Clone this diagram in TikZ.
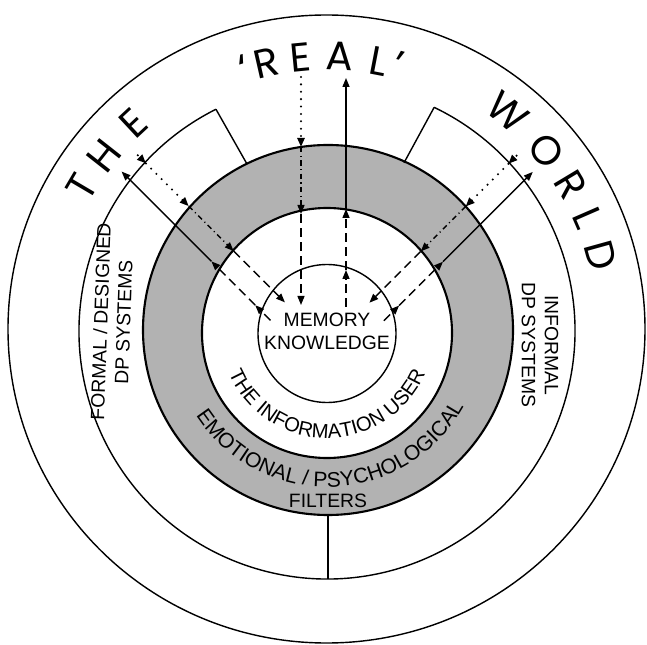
\documentclass[tikz,border=0pt]{standalone}
\usepackage{fontspec}
\setsansfont{Liberation Sans}
\newfontfamily\worldfont{Poppins}
\usetikzlibrary{arrows.meta,calc,decorations.text}

\begin{document}
\begin{tikzpicture}[
    % Style definitions
    bandline/.style={draw=black, line width=0.8pt},
    filterline/.style={draw=black, line width=1.2pt},
    flow/.style={line width=0.8pt},
    inflow/.style={flow, line width=1.3pt, line cap=round, dash pattern=on 0pt off 4.2pt},
    mixflow/.style={flow, dash pattern=on 3pt off 2pt on 0.6pt off 2pt},
    dashflow/.style={flow, dash pattern=on 5pt off 3pt},
    arrowend/.style={-{Triangle[length=1.8mm,width=1.4mm]}},
    caption/.style={font=\sffamily\fontsize{11}{13}\selectfont, align=center, inner sep=0pt},
    bigletter/.style={font=\worldfont\fontsize{23}{23}\selectfont, anchor=base, inner sep=0pt}
]
\useasboundingbox (-6.54,-6.26) rectangle (6.40,6.62);

% Filter ring
\fill[black!30, even odd rule] (0.02,0.02) circle (3.70) (0,-0.04) circle (2.5);

% Circles
\draw[bandline] (-0.01,0.04) ellipse (6.37 and 6.28);
\coordinate (formalcorner) at (116.6:4.96);
\coordinate (informalcorner) at (64.4:4.96);
\coordinate (formalfoot) at (115.6:3.70);
\coordinate (informalfoot) at (65.4:3.70);
\coordinate (bottomfoot) at (0.02,-3.68);
\coordinate (bottomend) at (0.02,-4.96);
\draw[bandline] (formalcorner) arc (116.6:424.4:4.96);
\draw[bandline] (formalcorner) -- (formalfoot);
\draw[bandline] (informalcorner) -- (informalfoot);
\draw[bandline] (bottomfoot) -- (bottomend);
\draw[filterline] (0.02,0.02) circle (3.70);
\draw[filterline] (0,-0.04) circle (2.5);
\draw[bandline] (0,-0.05) circle (1.38);

% THE 'REAL' WORLD
\foreach \ch/\ang/\rad/\nm in {T/149.5/5.40/the1, H/141.8/5.40/the2, E/133/5.40/the3,
    {‘}/107.5/5.22/real0, R/102.8/5.22/real1, E/95.5/5.22/real2, A/87.3/5.22/real3, L/79.1/5.22/real4, {’}/74.9/5.22/real5,
    W/50.5/5.40/world1, O/39.5/5.40/world2, R/31/5.40/world3, L/23.5/5.40/world4, D/15.5/5.40/world5}
  \node[bigletter, rotate=\ang-90] (\nm) at (\ang:\rad) {\ch};

% Labels
\node[caption] (memtext) at (0,0) {MEMORY\\KNOWLEDGE};
\node[caption, rotate=88] (formaltext) at (-4.30,0.18) {FORMAL / DESIGNED\\DP SYSTEMS};
\node[caption, rotate=-90] (informaltext) at (4.26,-0.28) {INFORMAL\\DP SYSTEMS};
\node[caption] (filterstext) at (0.02,-3.40) {FILTERS};
\path[decorate, decoration={text along path, text align=center,
    text={|\sffamily\fontsize{11.5}{13}\selectfont|THE INFORMATION USER}}]
    (190:2.14) arc (190:350:2.14);
\path[decorate, decoration={text along path, text align=center,
    text={|\sffamily\fontsize{12}{14}\selectfont|EMOTIONAL / PSYCHOLOGICAL}}]
    (182:3.12) arc (182:362:3.12);

% Incoming lines (world -> user)
\coordinate (intop0) at (-0.52,5.08);
\coordinate (intop1) at (-0.52,3.68);
\coordinate (intop2) at (-0.52,2.34);
\coordinate (intop3) at (-0.52,0.52);
\draw[inflow, arrowend] (intop0) -- (intop1);
\draw[mixflow, arrowend] (intop1) -- (intop2);
\draw[dashflow, arrowend] (intop2) -- (intop3);
\foreach \n/\a/\na/\d in {inl/135/225/0.19, inr/45/315/0.2}{
  \coordinate (\n0) at ($(\a:5.16)+(\na:\d)$);
  \coordinate (\n1) at ($(\a:4.93)+(\na:\d)$);
  \coordinate (\n2) at ($(\a:3.72)+(\na:\d)$);
  \coordinate (\n3) at ($(\a:2.45)+(\na:\d)$);
  \coordinate (\n4) at ($(\a:1.0)+(\na:\d)$);
  \draw[inflow, arrowend] (\n0) -- (\n1);
  \draw[inflow, arrowend] (\n1) -- (\n2);
  \draw[mixflow, arrowend] (\n2) -- (\n3);
  \draw[dashflow, arrowend] (\n3) -- (\n4);
}

% Outgoing lines (user -> world)
\coordinate (outtop0) at (0.38,0.48);
\coordinate (outtop1) at (0.38,1.22);
\coordinate (outtop2) at (0.38,2.44);
\coordinate (outtop3) at (0.38,5.06);
\draw[dashflow, arrowend] (outtop0) -- (outtop1);
\draw[dashflow, arrowend] (outtop1) -- (outtop2);
\draw[flow, arrowend] (outtop2) -- (outtop3);
\foreach \n/\a/\na/\d in {outl/135/225/0.65, outr/45/315/0.66}{
  \coordinate (\n0) at ($(\a:0.95)+(\na:\d)$);
  \coordinate (\n1) at ($(\a:1.38)+(\na:\d)$);
  \coordinate (\n2) at ($(\a:2.62)+(\na:\d)$);
  \coordinate (\n3) at ($(\a:5.16)+(\na:\d)$);
  \draw[dashflow, arrowend] (\n0) -- (\n1);
  \draw[dashflow, arrowend] (\n1) -- (\n2);
  \draw[flow, arrowend] (\n2) -- (\n3);
}

\end{tikzpicture}
\end{document}
